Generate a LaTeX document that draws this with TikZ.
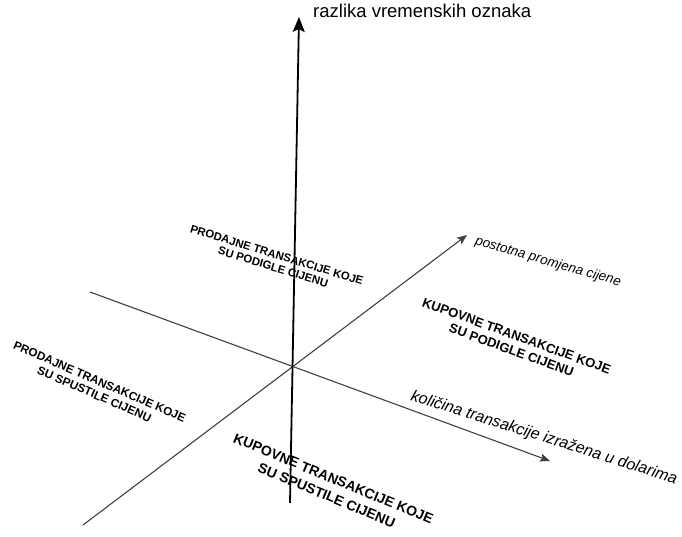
\documentclass[tikz,border=0pt]{standalone}
\usepackage{fontspec}
\setmainfont{Liberation Sans}
\usetikzlibrary{arrows.meta,positioning}

\begin{document}
\begin{tikzpicture}[x=1pt,y=-1pt,
		axis/.style={draw=black!75,line width=1.1pt,-{Stealth[length=10pt,width=8pt,inset=2pt]}},
		quad/.style 2 args={font=\bfseries\fontsize{#1}{#2}\selectfont,align=center,inner sep=0pt}]
	\useasboundingbox (0,0) rectangle (682,537);
	% axis end points
	\coordinate (Vb) at (290,503);
	\coordinate (Vt) at (299,17);
	\coordinate (Qa) at (90,292);
	\coordinate (Qb) at (550,461);
	\coordinate (Pa) at (83,525);
	\coordinate (Pb) at (467,235);

	\draw[axis] (Qa) -- (Qb);
	\draw[axis] (Pa) -- (Pb);
	\draw[line width=1.8pt,-{Stealth[length=15pt,width=12pt,inset=3pt]}] (Vb) -- (Vt);

	\node[anchor=west,inner sep=0pt,font=\fontsize{18.5}{20}\selectfont] (time) at (313,11) {razlika vremenskih oznaka};
	\node[rotate=-16,inner sep=0pt,font=\itshape\fontsize{13.5}{15}\selectfont] (pct) at (548,262) {postotna promjena cijene};
	\node[rotate=-17.5,inner sep=0pt,font=\itshape\fontsize{16}{18}\selectfont] (amt) at (544,438) {količina transakcije izražena u dolarima};

	\node[quad={11.3}{12.5},rotate=-17] (sellUp) at (275,261) {PRODAJNE TRANSAKCIJE KOJE\\SU PODIGLE CIJENU};
	\node[quad={11.7}{13.5},rotate=-23.5] (sellDown) at (97,388) {PRODAJNE TRANSAKCIJE KOJE\\SU SPUSTILE CIJENU};
	\node[quad={13}{15},rotate=-20] (buyUp) at (514,343) {KUPOVNE TRANSAKCIJE KOJE\\SU PODIGLE CIJENU};
	\node[quad={14}{18},rotate=-22.5] (buyDown) at (330,487) {KUPOVNE TRANSAKCIJE KOJE\\SU SPUSTILE CIJENU};
\end{tikzpicture}
\end{document}
